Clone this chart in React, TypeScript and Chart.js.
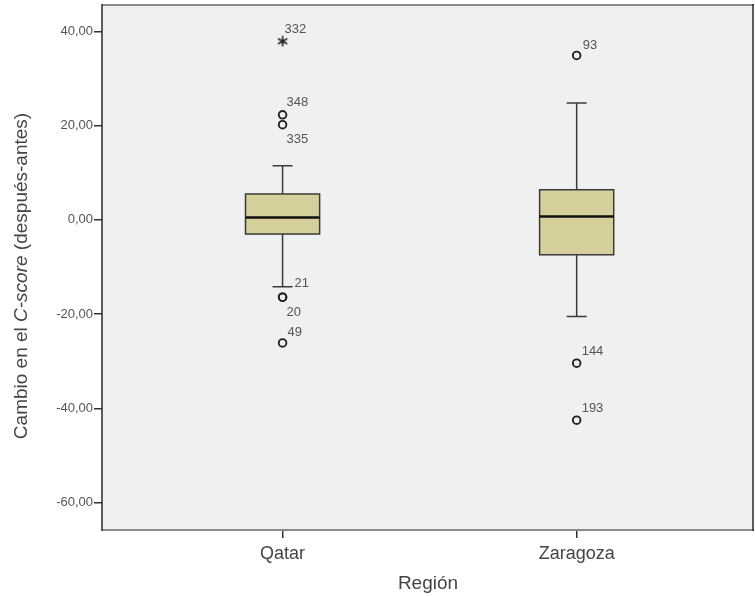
import React, { useEffect, useRef } from 'react';
import { Chart, registerables } from 'chart.js';

Chart.register(...registerables);

// ---- data ----
const regions = ['Qatar', 'Zaragoza'];
const regionPos = [1, 2];
const lowerWhisker = [-14.2, -20.5];
const q1 = [-3.0, -7.4];
const median = [0.5, 0.7];
const q3 = [5.5, 6.4];
const upperWhisker = [11.5, 24.8];

const outlierRegion = [0, 0, 0, 0, 0, 1, 1, 1];
const outlierValues = [22.3, 20.2, -16.4, -16.4, -26.1, 34.9, -30.4, -42.5];
const outlierIds = ['348', '335', '21', '20', '49', '93', '144', '193'];

const extremeRegion = [0];
const extremeValues = [37.9];
const extremeIds = ['332'];

const yTicks = [40, 20, 0, -20, -40, -60];
const yMin = -65.8;
const yMax = 45.6;

const xTitle = 'Región';
const yTitleParts: [string, boolean][] = [
  ['Cambio en el ', false],
  ['C-score', true],
  [' (después-antes)', false],
];

// ---- style (label placement relative to the marker, in px) ----
const labelOffsets: Record<string, [number, number]> = {
  '332': [2, -12],
  '348': [4, -12],
  '335': [4, 15],
  '21': [12, -14],
  '20': [4, 15],
  '49': [5, -10],
  '93': [6, -10],
  '144': [5, -12],
  '193': [5, -12],
};

const FONT = '"Liberation Sans", Arial, Helvetica, sans-serif';
const BOX_HALF = 0.126;
const CAP_HALF = 0.034;

function makeAsterisk(): HTMLCanvasElement {
  const c = document.createElement('canvas');
  c.width = 12;
  c.height = 12;
  const g = c.getContext('2d')!;
  g.strokeStyle = '#222222';
  g.lineWidth = 1.6;
  g.lineCap = 'round';
  const r = 4.6;
  [90, 30, 150].forEach((deg) => {
    const a = (deg * Math.PI) / 180;
    g.beginPath();
    g.moveTo(6 - r * Math.cos(a), 6 - r * Math.sin(a));
    g.lineTo(6 + r * Math.cos(a), 6 + r * Math.sin(a));
    g.stroke();
  });
  return c;
}

const boxPlugin = {
  id: 'boxplotDraw',
  beforeDraw(chart: any) {
    const { ctx, chartArea } = chart;
    ctx.save();
    ctx.fillStyle = '#ffffff';
    ctx.fillRect(0, 0, chart.width, chart.height);
    ctx.fillStyle = '#f0f0f0';
    ctx.fillRect(chartArea.left, chartArea.top, chartArea.right - chartArea.left, chartArea.bottom - chartArea.top);
    ctx.restore();
  },
  beforeDatasetsDraw(chart: any) {
    const { ctx } = chart;
    const xs = chart.scales.x;
    const ys = chart.scales.y;
    ctx.save();
    regions.forEach((_, i) => {
      const cx = xs.getPixelForValue(regionPos[i]);
      const left = xs.getPixelForValue(regionPos[i] - BOX_HALF);
      const right = xs.getPixelForValue(regionPos[i] + BOX_HALF);
      const capL = xs.getPixelForValue(regionPos[i] - CAP_HALF);
      const capR = xs.getPixelForValue(regionPos[i] + CAP_HALF);
      const yLo = ys.getPixelForValue(lowerWhisker[i]);
      const yQ1 = ys.getPixelForValue(q1[i]);
      const yMed = ys.getPixelForValue(median[i]);
      const yQ3 = ys.getPixelForValue(q3[i]);
      const yHi = ys.getPixelForValue(upperWhisker[i]);

      ctx.strokeStyle = '#3a3a3a';
      ctx.lineWidth = 1.5;
      ctx.beginPath();
      ctx.moveTo(cx, yHi);
      ctx.lineTo(cx, yQ3);
      ctx.moveTo(cx, yQ1);
      ctx.lineTo(cx, yLo);
      ctx.moveTo(capL, yHi);
      ctx.lineTo(capR, yHi);
      ctx.moveTo(capL, yLo);
      ctx.lineTo(capR, yLo);
      ctx.stroke();

      ctx.fillStyle = '#d5d09b';
      ctx.fillRect(left, yQ3, right - left, yQ1 - yQ3);
      ctx.strokeStyle = '#3a3a3a';
      ctx.lineWidth = 1.5;
      ctx.strokeRect(left, yQ3, right - left, yQ1 - yQ3);

      ctx.strokeStyle = '#111111';
      ctx.lineWidth = 2.5;
      ctx.beginPath();
      ctx.moveTo(left, yMed);
      ctx.lineTo(right, yMed);
      ctx.stroke();
    });
    ctx.restore();
  },
  afterDraw(chart: any) {
    const { ctx, chartArea } = chart;
    const xs = chart.scales.x;
    const ys = chart.scales.y;
    ctx.save();
    // frame
    ctx.lineWidth = 2;
    ctx.strokeStyle = '#8a8a8a';
    ctx.beginPath();
    ctx.moveTo(chartArea.left, chartArea.top);
    ctx.lineTo(chartArea.right, chartArea.top);
    ctx.moveTo(chartArea.left, chartArea.bottom);
    ctx.lineTo(chartArea.right, chartArea.bottom);
    ctx.stroke();
    ctx.lineWidth = 1.5;
    ctx.strokeStyle = '#2a2a2a';
    ctx.beginPath();
    ctx.moveTo(chartArea.left, chartArea.top - 1);
    ctx.lineTo(chartArea.left, chartArea.bottom + 1);
    ctx.moveTo(chartArea.right - 1, chartArea.top - 1);
    ctx.lineTo(chartArea.right - 1, chartArea.bottom + 1);
    ctx.stroke();

    // outlier labels
    ctx.font = `13px ${FONT}`;
    ctx.fillStyle = '#555555';
    ctx.textAlign = 'left';
    ctx.textBaseline = 'middle';
    const drawLabel = (id: string, r: number, v: number) => {
      const px = xs.getPixelForValue(regionPos[r]);
      const py = ys.getPixelForValue(v);
      const off = labelOffsets[id] || [4, -12];
      ctx.fillText(id, px + off[0], py + off[1]);
    };
    outlierIds.forEach((id, i) => drawLabel(id, outlierRegion[i], outlierValues[i]));
    extremeIds.forEach((id, i) => drawLabel(id, extremeRegion[i], extremeValues[i]));

    // x title
    ctx.font = `19px ${FONT}`;
    ctx.fillStyle = '#444444';
    ctx.textAlign = 'center';
    ctx.fillText(xTitle, (chartArea.left + chartArea.right) / 2, 584);

    // y title (mixed italic)
    const normalFont = `19px ${FONT}`;
    const italicFont = `italic 19px ${FONT}`;
    let total = 0;
    yTitleParts.forEach(([t, it]) => {
      ctx.font = it ? italicFont : normalFont;
      total += ctx.measureText(t).width;
    });
    ctx.translate(22, 276);
    ctx.rotate(-Math.PI / 2);
    ctx.textAlign = 'left';
    let x = -total / 2;
    yTitleParts.forEach(([t, it]) => {
      ctx.font = it ? italicFont : normalFont;
      ctx.fillText(t, x, 0);
      x += ctx.measureText(t).width;
    });
    ctx.restore();
  },
};

export default function App() {
  const ref = useRef<HTMLCanvasElement | null>(null);
  useEffect(() => {
    if (!ref.current) return;
    const chart = new Chart(ref.current, {
      type: 'scatter',
      data: {
        datasets: [
          {
            label: 'Atípicos',
            data: outlierValues.map((v, i) => ({ x: regionPos[outlierRegion[i]], y: v })),
            pointStyle: 'circle',
            pointRadius: 3.8,
            pointBorderWidth: 1.9,
            borderColor: '#222222',
            backgroundColor: 'rgba(0,0,0,0)',
          },
          {
            label: 'Extremos',
            data: extremeValues.map((v, i) => ({ x: regionPos[extremeRegion[i]], y: v })),
            pointStyle: makeAsterisk(),
            pointRadius: 5,
            borderColor: '#222222',
            backgroundColor: 'rgba(0,0,0,0)',
          },
        ],
      },
      options: {
        responsive: false,
        animation: false,
        devicePixelRatio: 1,
        layout: { autoPadding: false, padding: { top: 5, right: 1, left: 0, bottom: 0 } },
        plugins: {
          legend: { display: false },
          tooltip: { enabled: false },
        },
        scales: {
          x: {
            type: 'linear',
            min: 0.386,
            max: 2.603,
            afterBuildTicks: (scale: any) => {
              scale.ticks = regionPos.map((v) => ({ value: v }));
            },
            afterFit: (scale: any) => {
              scale.height = 67;
              scale.paddingLeft = 0;
              scale.paddingRight = 0;
              scale.paddingTop = 0;
              scale.paddingBottom = 0;
            },
            ticks: {
              callback: (v: any) => regions[regionPos.indexOf(Number(v))] ?? '',
              font: { family: FONT, size: 18 },
              color: '#444444',
              padding: 5,
              maxRotation: 0,
              autoSkip: false,
            },
            grid: {
              display: true,
              drawOnChartArea: false,
              drawTicks: true,
              tickLength: 8,
              color: '#333333',
              lineWidth: 1.5,
            },
            border: { display: false },
          },
          y: {
            type: 'linear',
            min: yMin,
            max: yMax,
            afterBuildTicks: (scale: any) => {
              scale.ticks = yTicks.map((v) => ({ value: v }));
            },
            afterFit: (scale: any) => {
              scale.width = 102;
              scale.paddingLeft = 0;
              scale.paddingRight = 0;
              scale.paddingTop = 0;
              scale.paddingBottom = 0;
            },
            ticks: {
              callback: (v: any) => Number(v).toFixed(2).replace('.', ','),
              font: { family: FONT, size: 13 },
              color: '#555555',
              padding: 1,
              autoSkip: false,
            },
            grid: {
              display: true,
              drawOnChartArea: false,
              drawTicks: true,
              tickLength: 8,
              color: '#333333',
              lineWidth: 1.5,
            },
            border: { display: false },
          },
        },
      },
      plugins: [boxPlugin],
    } as any);
    return () => chart.destroy();
  }, []);

  return (
    <div style={{ position: 'fixed', left: 0, top: 0, width: 755, height: 597, background: '#ffffff' }}>
      <canvas ref={ref} width={755} height={597} style={{ display: 'block', width: 755, height: 597 }} />
    </div>
  );
}
